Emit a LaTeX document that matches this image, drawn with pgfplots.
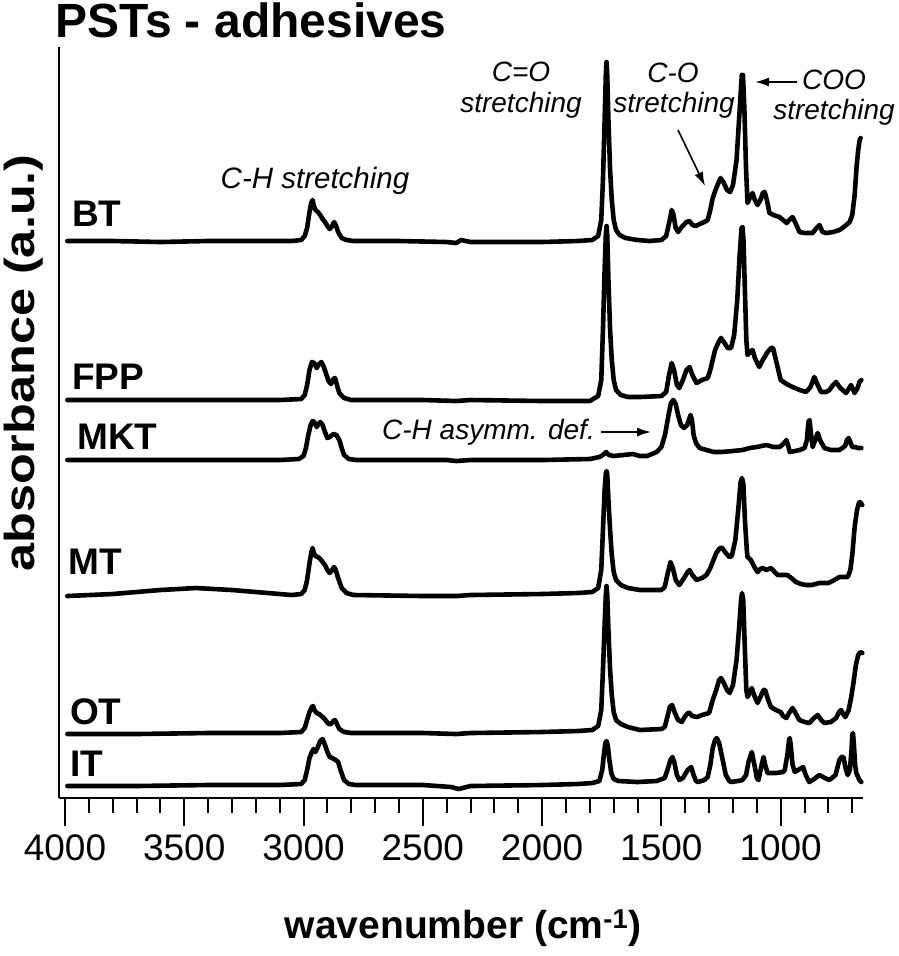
\documentclass[border=0pt]{standalone}
\usepackage{fontspec}
\setmainfont{Liberation Sans}
\usepackage{pgfplots}
\usetikzlibrary{arrows.meta}
\pgfplotsset{compat=1.18}
\begin{document}
\begin{tikzpicture}[x=1pt,y=1pt]
\useasboundingbox (0,0) rectangle (898,-956);
\begin{axis}[
  at={(59pt,-798pt)}, anchor=south west,
  scale only axis, width=804pt, height=751pt,
  xmin=655, xmax=4025, ymin=47, ymax=798,
  x dir=reverse, y dir=reverse,
  axis x line=bottom, axis y line=left,
  axis line style={line width=2pt,-},
  xtick={1000,1500,2000,2500,3000,3500,4000},
  minor xtick={700,800,...,3900},
  ytick=\empty,
  tick align=outside,
  major tick length=28pt, minor tick length=15pt,
  every tick/.style={line width=2pt,black},
  /pgf/number format/assume math mode=true,
  /pgf/number format/1000 sep={},
  xticklabel style={font=\fontsize{37}{40}\selectfont, anchor=north, yshift=-5pt},
  clip=false,
  spec/.style={black, solid, line width=4.6pt, line join=round, line cap=round, mark=none},
]
% BT
\addplot[spec] coordinates {(3990,241)(3800,241)(3600,242)(3400,241)(3200,241)(3050,241)(3010,240)(2995,236)(2985,228)(2975,212)(2968,203)(2962,200)(2957,206)(2950,210)(2940,212)(2930,215)(2920,219)(2910,222)(2900,226)(2890,229)(2880,226)(2872,222)(2865,225)(2855,232)(2840,238)(2820,240)(2790,241)(2600,241)(2400,242)(2360,243)(2340,240)(2300,242)(2000,242)(1850,241)(1790,240)(1765,236)(1752,220)(1745,180)(1738,120)(1733,75)(1730,62)(1727,75)(1722,120)(1715,170)(1708,200)(1700,220)(1690,230)(1675,235)(1650,238)(1600,240)(1550,241)(1500,240)(1480,236)(1465,220)(1457,210)(1450,214)(1440,228)(1430,232)(1415,227)(1395,222)(1382,221)(1370,225)(1355,226)(1340,224)(1320,222)(1306,220)(1295,210)(1285,198)(1270,188)(1252,178)(1240,182)(1225,190)(1212,192)(1200,185)(1185,160)(1172,110)(1163,75)(1158,75)(1152,110)(1145,170)(1139,203)(1130,198)(1118,193)(1108,200)(1097,205)(1085,200)(1075,193)(1067,192)(1058,200)(1047,213)(1030,215)(1005,217)(990,220)(975,223)(960,219)(950,217)(940,222)(921,232)(900,233)(866,233)(850,228)(837,225)(825,232)(808,233)(780,232)(753,230)(730,226)(711,222)(700,215)(690,195)(682,167)(675,150)(669,140)(665,138)};
% FPP
\addplot[spec] coordinates {(3990,400)(3700,400)(3400,400)(3100,400)(3010,399)(2995,395)(2985,385)(2975,370)(2965,362)(2955,363)(2945,368)(2935,364)(2925,362)(2915,367)(2905,374)(2895,381)(2885,384)(2875,379)(2868,378)(2860,385)(2850,393)(2830,398)(2800,400)(2500,400)(2360,401)(2300,400)(2000,401)(1800,401)(1765,396)(1752,380)(1745,330)(1738,270)(1733,235)(1730,226)(1727,235)(1722,280)(1715,330)(1708,360)(1700,380)(1690,390)(1670,395)(1640,397)(1590,397)(1500,396)(1480,392)(1468,375)(1457,363)(1447,370)(1435,385)(1425,388)(1410,380)(1395,370)(1382,367)(1370,375)(1353,383)(1330,380)(1306,378)(1295,370)(1285,360)(1275,350)(1260,342)(1250,338)(1238,342)(1222,348)(1208,348)(1195,335)(1182,300)(1172,255)(1164,228)(1160,227)(1156,240)(1150,290)(1144,340)(1139,355)(1128,352)(1118,350)(1108,358)(1090,367)(1075,360)(1055,352)(1040,348)(1032,348)(1020,360)(1000,380)(975,384)(950,387)(920,390)(894,392)(875,387)(859,377)(845,385)(831,392)(810,392)(796,390)(780,385)(768,382)(750,388)(726,393)(705,385)(690,393)(678,388)(670,382)(662,380)};
% MKT
\addplot[spec] coordinates {(3990,460)(3700,460)(3400,460)(3100,460)(3020,459)(3000,456)(2990,448)(2980,435)(2970,425)(2962,421)(2955,422)(2945,427)(2937,424)(2930,422)(2920,425)(2910,432)(2900,438)(2890,437)(2875,434)(2862,435)(2850,440)(2840,448)(2830,455)(2810,459)(2780,460)(2500,460)(2400,460)(2360,461)(2300,460)(2000,460)(1800,459)(1760,457)(1745,455)(1732,452)(1720,455)(1700,456)(1660,455)(1620,454)(1590,456)(1560,456)(1520,452)(1500,447)(1485,435)(1470,415)(1460,403)(1450,400)(1440,404)(1430,415)(1418,425)(1405,428)(1392,425)(1385,420)(1378,415)(1372,420)(1365,435)(1355,443)(1340,448)(1311,450)(1280,452)(1250,452)(1200,451)(1160,450)(1130,448)(1100,447)(1060,445)(1030,447)(1004,447)(985,443)(976,440)(968,446)(962,452)(940,451)(920,450)(900,448)(890,440)(884,422)(879,420)(874,432)(866,447)(855,440)(845,433)(835,440)(817,448)(790,450)(754,450)(730,446)(722,440)(715,438)(708,442)(700,447)(690,447)(675,448)(662,448)};
% MT
\addplot[spec] coordinates {(3990,596)(3800,594)(3600,590)(3450,588)(3300,590)(3150,593)(3050,595)(3010,594)(2995,590)(2985,580)(2975,563)(2967,552)(2962,548)(2957,553)(2950,556)(2940,557)(2930,559)(2920,562)(2910,565)(2900,570)(2890,573)(2880,570)(2872,567)(2865,570)(2855,578)(2840,588)(2820,593)(2790,595)(2500,596)(2360,596)(2300,595)(2000,594)(1850,593)(1790,592)(1765,588)(1752,570)(1745,530)(1738,490)(1733,474)(1730,471)(1727,474)(1722,500)(1715,530)(1708,555)(1700,572)(1690,580)(1670,585)(1640,588)(1590,590)(1500,590)(1486,587)(1475,575)(1462,562)(1452,568)(1440,580)(1425,585)(1405,578)(1390,572)(1382,570)(1370,575)(1353,580)(1330,578)(1311,575)(1295,568)(1285,562)(1270,553)(1255,548)(1245,548)(1230,553)(1215,557)(1205,556)(1190,540)(1178,510)(1168,482)(1162,478)(1156,485)(1150,520)(1142,550)(1139,557)(1125,560)(1110,567)(1097,572)(1085,569)(1076,568)(1060,570)(1041,568)(1025,572)(1013,575)(990,575)(972,575)(955,578)(936,582)(915,584)(894,585)(870,585)(838,583)(800,583)(775,580)(754,577)(735,577)(719,577)(708,570)(700,555)(690,527)(680,510)(672,503)(669,502)(664,503)(658,505)};
% OT
\addplot[spec] coordinates {(3990,734)(3700,734)(3400,733)(3100,733)(3010,732)(2995,728)(2985,720)(2975,712)(2965,707)(2960,706)(2955,710)(2945,713)(2935,714)(2925,716)(2915,718)(2905,721)(2895,724)(2885,724)(2875,721)(2868,720)(2860,724)(2850,729)(2830,732)(2800,733)(2500,733)(2360,734)(2300,733)(2000,732)(1850,731)(1790,730)(1765,726)(1752,710)(1745,670)(1738,625)(1733,595)(1730,586)(1727,595)(1722,630)(1715,670)(1708,695)(1700,712)(1690,720)(1670,724)(1640,727)(1590,730)(1500,729)(1486,727)(1475,717)(1465,707)(1455,705)(1445,712)(1430,720)(1415,722)(1400,716)(1388,713)(1382,713)(1370,716)(1350,717)(1330,715)(1300,713)(1285,700)(1270,690)(1258,680)(1250,678)(1238,683)(1225,690)(1214,693)(1200,685)(1185,660)(1175,630)(1166,600)(1162,593)(1157,600)(1150,650)(1144,690)(1139,697)(1130,693)(1121,688)(1110,696)(1097,703)(1085,697)(1072,690)(1065,690)(1055,698)(1041,707)(1020,710)(1000,712)(990,716)(976,718)(965,713)(950,708)(940,712)(922,720)(900,722)(880,723)(860,718)(845,715)(830,720)(817,723)(790,722)(768,718)(755,712)(747,710)(738,714)(729,717)(715,710)(705,698)(695,683)(685,665)(675,655)(665,652)(658,653)};
% IT
\addplot[spec] coordinates {(3990,786)(3700,786)(3400,785)(3100,785)(3010,784)(2995,780)(2985,770)(2975,758)(2965,752)(2958,749)(2950,752)(2940,747)(2930,741)(2920,739)(2910,745)(2900,752)(2890,757)(2880,758)(2865,760)(2855,762)(2845,770)(2830,780)(2810,784)(2780,785)(2500,785)(2380,787)(2350,789)(2300,786)(2000,785)(1850,784)(1790,783)(1760,781)(1748,770)(1740,752)(1735,743)(1730,741)(1725,745)(1718,760)(1710,773)(1700,779)(1680,781)(1600,782)(1520,781)(1486,778)(1472,768)(1462,760)(1454,757)(1446,762)(1435,775)(1425,780)(1410,778)(1390,770)(1375,767)(1365,775)(1355,781)(1346,782)(1320,780)(1306,777)(1295,765)(1285,748)(1275,740)(1268,738)(1258,743)(1243,760)(1230,775)(1215,781)(1208,782)(1180,781)(1160,780)(1145,775)(1135,762)(1121,752)(1110,765)(1100,778)(1093,780)(1080,765)(1072,757)(1065,765)(1055,773)(1040,773)(1020,773)(990,772)(983,770)(972,755)(965,740)(962,738)(958,745)(950,765)(941,772)(920,769)(906,767)(895,775)(880,782)(860,779)(838,775)(815,778)(796,780)(770,775)(754,760)(745,757)(737,757)(728,768)(719,775)(710,770)(703,750)(700,735)(697,733)(693,745)(688,765)(683,773)(670,780)(662,782)};
\end{axis}
% title
\node[anchor=base west, inner sep=0pt, font=\fontsize{48}{52}\selectfont\bfseries] at (55,-37) {PSTs - adhesives};
% sample labels
\begin{scope}[every node/.style={anchor=west, inner sep=0pt, font=\fontsize{37}{40}\selectfont\bfseries}]
\node at (72,-214) {BT};
\node at (72,-377) {FPP};
\node at (77,-437) {MKT};
\node at (68,-562) {MT};
\node at (70,-712) {OT};
\node at (70,-764) {IT};
\end{scope}
% axis labels
\node[anchor=base, inner sep=0pt, font=\fontsize{39}{42}\selectfont\bfseries] at (463,-938) {wavenumber (cm\textsuperscript{-1})};
\node[rotate=90, anchor=center, inner sep=0pt, font=\fontsize{42}{46}\selectfont\bfseries] at (24,-363) {\scalebox{1.2}[1]{absorbance (a.u.)}};
% annotations
\begin{scope}[every node/.style={anchor=center, inner sep=0pt, font=\fontsize{28}{30}\selectfont\itshape}]
\node[font=\fontsize{29.5}{32}\selectfont\itshape] at (315,-181) {C-H stretching};
\node at (521,-72) {C=O};
\node at (521,-105) {stretching};
\node at (673,-73) {C-O};
\node at (674,-105) {stretching};
\node at (834,-80) {COO};
\node at (834,-112) {stretching};
\node[anchor=west] at (382,-432) {C-H asymm. def.};
\end{scope}
\draw[line width=1.6pt, -{Latex[length=14pt,width=9pt]}] (678,-130) -- (705,-186);
\draw[line width=1.6pt, -{Latex[length=14pt,width=9pt]}] (797,-82) -- (755,-82);
\draw[line width=1.6pt, -{Latex[length=14pt,width=9pt]}] (601,-432) -- (651,-432);
\end{tikzpicture}
\end{document}
